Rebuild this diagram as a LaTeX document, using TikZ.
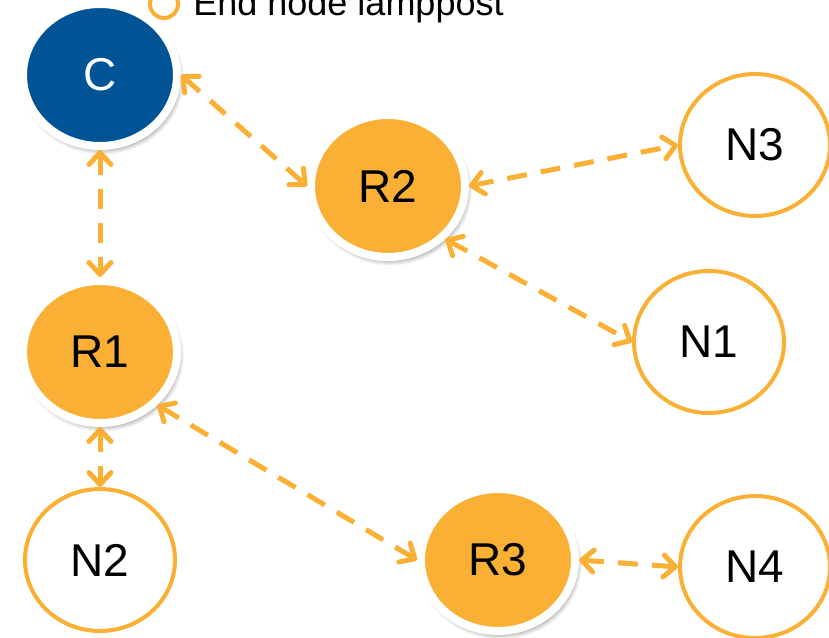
\documentclass[tikz,border=0pt]{standalone}
\usepackage{fontspec}
\setmainfont{Liberation Sans}
\usetikzlibrary{arrows.meta,shapes.geometric,shadows.blur}
\definecolor{lamp}{RGB}{250,176,52}
\definecolor{ctrl}{RGB}{0,84,150}
\tikzset{barb/.tip={Straight Barb[length=6pt,width=11pt,round]}}
\tikzset{hub/.style={ellipse,draw=white,line width=4pt,inner sep=0pt,
                     minimum width=77pt,minimum height=71pt,
                     blur shadow={shadow xshift=1.2pt,shadow yshift=-2pt,
                                  shadow blur steps=10,shadow blur radius=2.5pt,
                                  shadow opacity=45}},
         relay/.style={hub,fill=lamp},
         endnode/.style={ellipse,draw=lamp,line width=2pt,fill=white,inner sep=0pt,
                         minimum width=75pt,minimum height=71pt},
         link/.style={lamp,line width=2.5pt,dash pattern=on 10pt off 7pt,barb-barb}}

\begin{document}
\begin{tikzpicture}[x=0.5pt,y=-0.5pt,font=\fontsize{23}{27}\selectfont]
        \useasboundingbox (0,0) rectangle (829,637);
        % legend, cut at the top
        \draw[lamp,line width=2pt] (164,4) circle[radius=7pt];
        \node[anchor=base west,inner sep=0pt,font=\fontsize{18}{22}\selectfont] (leg) at (193,16) {End node lamppost};
        % controller and relays
        \node[hub,fill=ctrl,text=white] (C) at (100,75) {C};
        \node[relay] (R1) at (100,352) {R1};
        \node[relay] (R2) at (388,186) {R2};
        \node[relay] (R3) at (498,560) {R3};
        % end nodes
        \node[endnode] (N1) at (709,342) {N1};
        \node[endnode] (N2) at (100,560) {N2};
        \node[endnode] (N3) at (755,145) {N3};
        \node[endnode] (N4) at (755,567) {N4};
        %
        \foreach \A/\B in {C.east/R2.west,C.south/R1.north,R2.east/N3.west,
                           R2.south east/N1.west,R1.south/N2.north,
                           R1.south east/R3.west,R3.east/N4.west}
            {\draw[link] (\A) -- (\B);}
    \end{tikzpicture}
\end{document}
